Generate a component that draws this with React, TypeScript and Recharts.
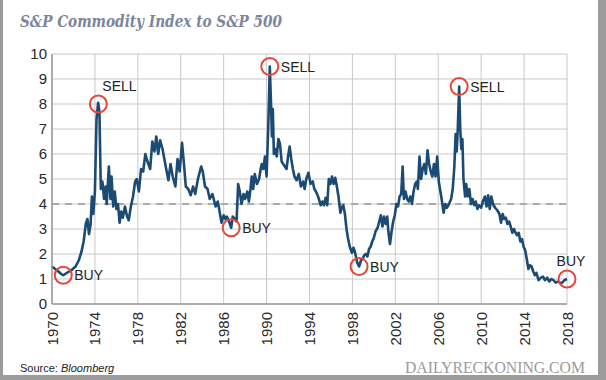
import React from 'react';
import { ComposedChart, Line, XAxis, YAxis, CartesianGrid, ReferenceLine, ReferenceDot } from 'recharts';

// Ratio of S&P commodity index to S&P 500 as [year, ratio]
const ratio1970s: [number, number][] = [
  [1970.0, 1.5], [1970.3, 1.4], [1970.6, 1.3], [1970.85, 1.2], [1971.05, 1.15], [1971.4, 1.25],
  [1971.8, 1.35], [1972.2, 1.5], [1972.5, 1.75], [1972.75, 2.1], [1972.95, 2.5], [1973.15, 3.2],
  [1973.3, 3.4], [1973.45, 2.8], [1973.6, 3.2], [1973.72, 4.3], [1973.85, 3.6], [1974.0, 4.5],
  [1974.15, 7.4], [1974.3, 8.05], [1974.42, 7.7], [1974.55, 4.6], [1974.7, 4.9], [1974.85, 4.2],
  [1975.0, 4.7], [1975.1, 4.0], [1975.3, 5.5], [1975.45, 4.2], [1975.55, 5.1], [1975.7, 3.9],
  [1975.85, 4.5], [1976.0, 3.8], [1976.15, 4.0], [1976.3, 3.25], [1976.45, 3.7], [1976.6, 3.45],
  [1976.8, 3.9], [1977.0, 3.5], [1977.15, 3.35], [1977.35, 3.9], [1977.55, 4.3], [1977.75, 4.9],
  [1977.9, 5.0], [1978.1, 4.5], [1978.3, 5.4], [1978.5, 5.3], [1978.7, 6.0], [1978.9, 5.7],
  [1979.15, 5.4], [1979.35, 6.5], [1979.55, 6.1], [1979.72, 6.7], [1979.9, 6.0],
];

const ratio1980s: [number, number][] = [
  [1980.08, 6.55], [1980.3, 6.2], [1980.6, 5.5], [1980.85, 4.95], [1981.05, 5.6], [1981.25, 5.1],
  [1981.5, 4.7], [1981.7, 5.8], [1981.9, 5.3], [1982.12, 6.45], [1982.3, 5.6], [1982.47, 4.7],
  [1982.7, 4.6], [1982.93, 4.35], [1983.15, 4.7], [1983.35, 4.4], [1983.6, 5.0], [1983.9, 5.5],
  [1984.05, 5.3], [1984.26, 4.7], [1984.5, 4.6], [1984.7, 4.2], [1984.95, 4.4], [1985.25, 3.9],
  [1985.45, 4.1], [1985.6, 3.75], [1985.8, 3.25], [1986.0, 3.55], [1986.15, 3.4], [1986.3, 3.5],
  [1986.5, 3.3], [1986.7, 3.05], [1986.85, 3.5], [1987.05, 3.4], [1987.2, 3.3], [1987.35, 4.8],
  [1987.5, 4.5], [1987.67, 4.0], [1987.85, 4.4], [1988.0, 4.2], [1988.2, 4.5], [1988.35, 4.1],
  [1988.5, 4.6], [1988.62, 5.1], [1988.75, 4.6], [1988.9, 5.2], [1989.1, 4.8], [1989.3, 5.0],
  [1989.45, 5.4], [1989.55, 5.6], [1989.7, 5.4], [1989.85, 5.9],
];

const ratio1990s: [number, number][] = [
  [1990.0, 5.1], [1990.15, 7.0], [1990.3, 9.5], [1990.4, 8.2], [1990.5, 6.7], [1990.58, 7.8],
  [1990.68, 6.0], [1990.8, 6.2], [1990.95, 5.9], [1991.1, 6.6], [1991.25, 6.4], [1991.4, 5.7],
  [1991.55, 5.6], [1991.7, 5.5], [1991.86, 5.4], [1992.0, 5.9], [1992.15, 6.3], [1992.3, 5.8],
  [1992.45, 5.4], [1992.6, 5.1], [1992.8, 4.95], [1993.0, 5.2], [1993.2, 4.7], [1993.4, 4.9],
  [1993.55, 4.6], [1993.7, 5.0], [1993.9, 5.25], [1994.1, 4.8], [1994.3, 4.9], [1994.45, 4.6],
  [1994.6, 4.5], [1994.8, 4.3], [1995.05, 3.95], [1995.2, 4.1], [1995.35, 3.95], [1995.5, 4.25],
  [1995.65, 3.95], [1995.8, 5.0], [1995.95, 4.8], [1996.1, 5.1], [1996.25, 4.8], [1996.4, 5.05],
  [1996.55, 4.7], [1996.7, 4.3], [1996.88, 3.65], [1997.0, 3.85], [1997.15, 3.95], [1997.3, 3.6],
  [1997.45, 3.0], [1997.6, 2.6], [1997.75, 2.3], [1997.95, 2.05], [1998.1, 2.25], [1998.25, 2.05],
  [1998.45, 1.65], [1998.62, 1.5], [1998.8, 1.75], [1998.95, 1.8], [1999.1, 1.95], [1999.25, 2.0],
  [1999.4, 1.9], [1999.55, 2.2], [1999.7, 2.3], [1999.85, 2.5],
];

const ratio2000s: [number, number][] = [
  [2000.0, 2.65], [2000.15, 2.9], [2000.35, 3.05], [2000.5, 3.3], [2000.65, 3.55], [2000.8, 3.1],
  [2000.95, 3.5], [2001.1, 3.2], [2001.25, 3.5], [2001.35, 2.9], [2001.5, 2.4], [2001.65, 2.9],
  [2001.8, 3.3], [2001.95, 3.55], [2002.1, 4.0], [2002.25, 3.9], [2002.4, 4.3], [2002.55, 4.4],
  [2002.68, 5.5], [2002.8, 4.2], [2002.95, 4.5], [2003.1, 4.2], [2003.25, 4.1], [2003.4, 4.3],
  [2003.55, 4.0], [2003.7, 4.5], [2003.85, 4.8], [2004.0, 4.9], [2004.1, 4.6], [2004.25, 5.9],
  [2004.4, 5.0], [2004.55, 5.4], [2004.7, 5.6], [2004.85, 5.2], [2005.0, 6.15], [2005.15, 5.6],
  [2005.3, 5.3], [2005.45, 5.1], [2005.6, 5.6], [2005.75, 5.1], [2005.9, 5.9], [2006.05, 4.9],
  [2006.2, 4.5], [2006.35, 4.1], [2006.5, 3.65], [2006.65, 4.0], [2006.8, 3.85], [2007.0, 4.0],
  [2007.2, 4.2], [2007.35, 4.6], [2007.5, 5.5], [2007.62, 6.8], [2007.72, 6.1], [2007.82, 7.0],
  [2007.95, 8.7], [2008.05, 7.0], [2008.15, 6.2], [2008.25, 6.6], [2008.35, 5.0], [2008.5, 4.3],
  [2008.6, 4.8], [2008.75, 4.3], [2008.9, 4.6], [2009.05, 4.0], [2009.2, 4.2], [2009.35, 3.95],
  [2009.5, 4.1], [2009.65, 3.8], [2009.8, 3.95],
];

const ratio2010s: [number, number][] = [
  [2010.0, 3.85], [2010.15, 4.1], [2010.35, 4.3], [2010.5, 3.9], [2010.65, 4.35], [2010.8, 3.8],
  [2010.95, 4.3], [2011.1, 4.0], [2011.3, 3.85], [2011.5, 3.75], [2011.7, 3.6], [2011.85, 3.25],
  [2012.0, 3.6], [2012.15, 3.4], [2012.3, 3.45], [2012.45, 3.2], [2012.6, 3.3], [2012.75, 3.1],
  [2012.9, 2.85], [2013.05, 3.0], [2013.2, 2.85], [2013.35, 2.75], [2013.5, 2.85], [2013.65, 2.5],
  [2013.8, 2.6], [2013.95, 2.3], [2014.1, 2.15], [2014.25, 1.8], [2014.4, 1.4], [2014.55, 1.55],
  [2014.7, 1.5], [2014.85, 1.3], [2015.0, 1.15], [2015.15, 1.25], [2015.35, 0.95], [2015.55, 1.05],
  [2015.75, 1.1], [2015.95, 0.95], [2016.15, 1.05], [2016.35, 0.9], [2016.55, 1.0], [2016.75, 0.95],
  [2016.95, 0.85], [2017.15, 0.9], [2017.35, 0.85], [2017.55, 0.85], [2017.75, 0.95], [2018.0, 1.0],
];

// BUY / SELL signals
const signalYears = [1971.05, 1974.32, 1986.7, 1990.3, 1998.62, 2007.95, 2018.0];
const signalValues = [1.15, 8.0, 3.05, 9.5, 1.5, 8.7, 1.0];
const signalLabels = ['BUY', 'SELL', 'BUY', 'SELL', 'BUY', 'SELL', 'BUY'];
const signalPlacement = ['right', 'above', 'right', 'right', 'right', 'right', 'above'];

const xTicks = [1970, 1974, 1978, 1982, 1986, 1990, 1994, 1998, 2002, 2006, 2010, 2014, 2018];
const yTicks = [0, 1, 2, 3, 4, 5, 6, 7, 8, 9, 10];

const FONT = '"Liberation Sans", Arial, Helvetica, sans-serif';

const data = [...ratio1970s, ...ratio1980s, ...ratio1990s, ...ratio2000s, ...ratio2010s].map(([year, ratio]) => ({
  year,
  ratio,
}));

const XTick = ({ x, y, payload }: any) => (
  <text
    x={x}
    y={y}
    transform={`rotate(-90, ${x}, ${y})`}
    textAnchor="end"
    dominantBaseline="central"
    fontSize={15}
    fontFamily={FONT}
    fill="#2a2a2a"
  >
    {payload.value}
  </text>
);

const signalShape = (label: string, placement: string) => (props: any) => {
  const { cx, cy } = props;
  return (
    <g>
      <circle cx={cx} cy={cy} r={8.5} fill="none" stroke="#e4473b" strokeWidth={2} />
      {placement === 'right' ? (
        <text x={cx + 11} y={cy + 5} fontSize={14} fontFamily={FONT} fill="#222">
          {label}
        </text>
      ) : (
        <text x={cx + 4} y={cy - 13} textAnchor={label === 'SELL' ? 'start' : 'middle'} fontSize={14} fontFamily={FONT} fill="#222">
          {label}
        </text>
      )}
    </g>
  );
};

const App: React.FC = () => {
  return (
    <div style={{ position: 'absolute', left: 0, top: 0, width: 606, height: 380, background: '#9b9b9b' }}>
      <div style={{ position: 'absolute', left: 3, top: 0, width: 595, height: 375, background: '#fff' }} />
      <div style={{ position: 'absolute', left: 0, top: 0 }}>
        <ComposedChart width={606} height={380} data={data} margin={{ top: 54, right: 39, bottom: 36, left: 0 }}>
          <CartesianGrid stroke="#c9c9c9" strokeWidth={1} />
          <XAxis
            dataKey="year"
            type="number"
            domain={[1970, 2018]}
            ticks={xTicks}
            interval={0}
            height={40}
            tick={<XTick />}
            tickLine={false}
            axisLine={{ stroke: '#9a9a9a', strokeWidth: 1.5 }}
          />
          <YAxis
            type="number"
            domain={[0, 10]}
            ticks={yTicks}
            interval={0}
            width={52}
            tickLine={false}
            tickSize={0}
            tickMargin={5}
            axisLine={{ stroke: '#9a9a9a', strokeWidth: 1.5 }}
            tick={{ fontSize: 15, fontFamily: FONT, fill: '#2a2a2a' }}
          />
          <ReferenceLine y={4} stroke="#ababab" strokeWidth={2} strokeDasharray="7 6" />
          <Line
            type="linear"
            dataKey="ratio"
            stroke="#1b4a72"
            strokeWidth={2.6}
            strokeLinejoin="round"
            dot={false}
            isAnimationActive={false}
          />
          {signalYears.map((yr, i) => (
            <ReferenceDot
              key={i}
              x={yr}
              y={signalValues[i]}
              r={8.5}
              ifOverflow="visible"
              shape={signalShape(signalLabels[i], signalPlacement[i])}
            />
          ))}
        </ComposedChart>
      </div>
      <svg width={606} height={380} style={{ position: 'absolute', left: 0, top: 0, pointerEvents: 'none' }}>
        <text
          x={20}
          y={27}
          fontFamily='"DejaVu Serif", Georgia, serif'
          fontWeight="bold"
          fontStyle="italic"
          fontSize={16}
          fill="#7b869b"
          textLength={262}
          lengthAdjust="spacingAndGlyphs"
        >
          S&amp;P Commodity Index to S&amp;P 500
        </text>
        <text x={20} y={372} fontFamily={FONT} fontSize={11} fill="#222">
          Source: <tspan fontStyle="italic">Bloomberg</tspan>
        </text>
        <text
          x={585}
          y={373}
          textAnchor="end"
          fontFamily='"Liberation Serif", "Times New Roman", serif'
          fontSize={16}
          fill="#9a9a9a"
          textLength={180}
          lengthAdjust="spacingAndGlyphs"
        >
          DAILYRECKONING.COM
        </text>
      </svg>
    </div>
  );
};

export default App;
